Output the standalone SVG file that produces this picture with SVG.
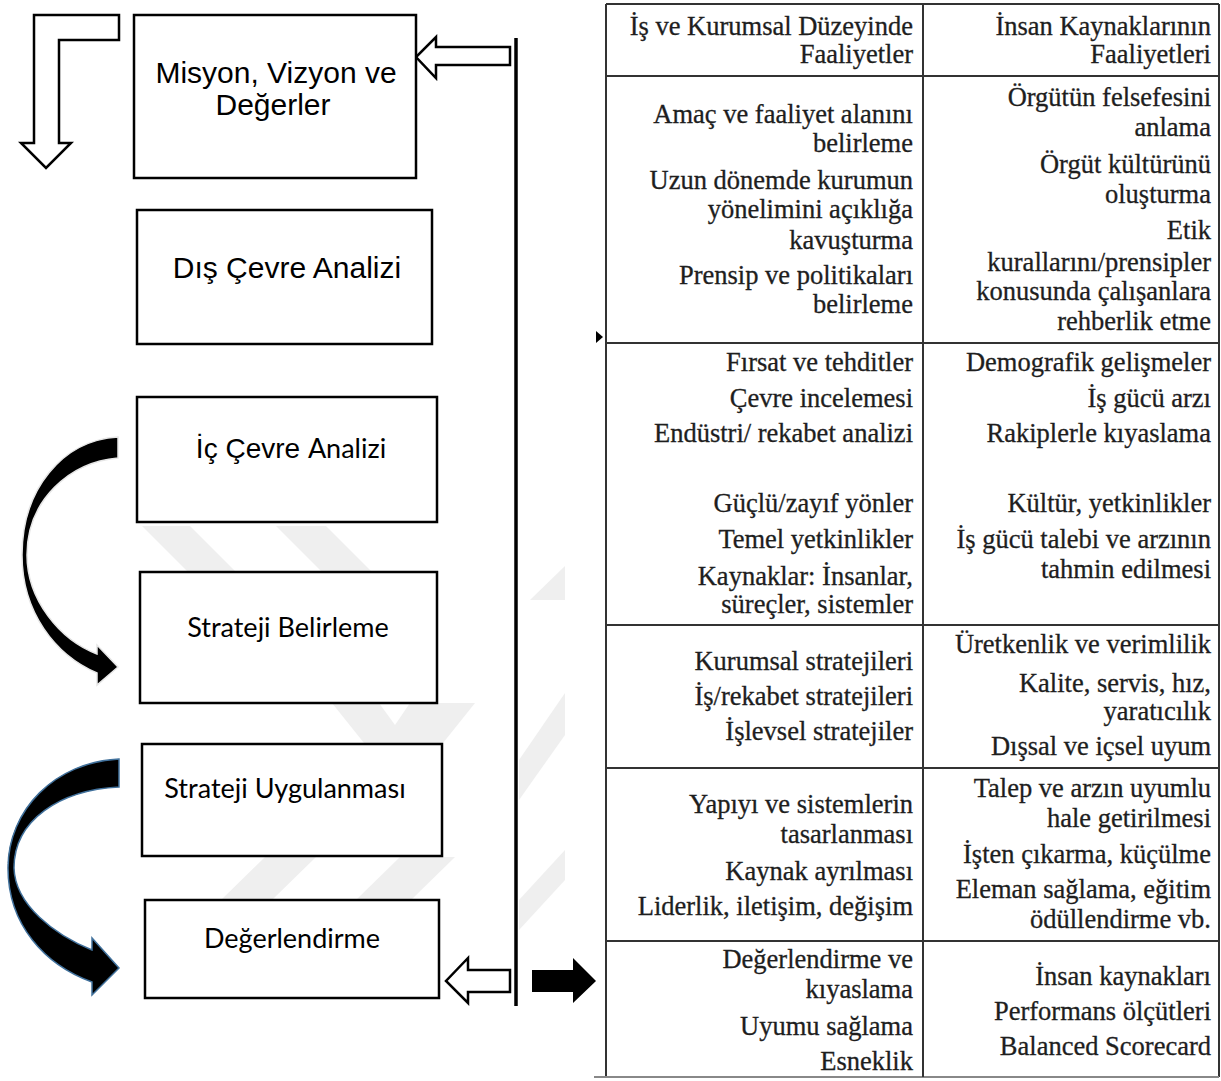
<svg xmlns="http://www.w3.org/2000/svg" width="1221" height="1081" viewBox="0 0 1221 1081">
<style>
.box{fill:#fff;stroke:#000;stroke-width:2.5}
.sans{font-family:"Liberation Sans",Arial,sans-serif;font-size:30px;fill:#000;text-anchor:middle}
.cal{font-family:Lato,"Open Sans",sans-serif;font-size:27px;fill:#000;text-anchor:middle}
.tl{stroke:#333;stroke-width:2;fill:none}
.tt{font-family:"Liberation Serif","Times New Roman",serif;font-size:26.5px;fill:#1e1e1e;stroke:#1e1e1e;stroke-width:0.3;text-anchor:end}
.hollow{fill:#fff;stroke:#000;stroke-width:2.5;stroke-linejoin:miter}
.wm{fill:#efefef}
</style>
<rect width="1221" height="1081" fill="#fff"/>

<g id="watermark">
  <polygon class="wm" points="142,526 190,526 236,572 188,572"/>
  <polygon class="wm" points="276,526 326,526 372,572 322,572"/>
  <polygon class="wm" points="332,703 379,703 395,725 410,703 475,703 443,743 364,743"/>
  <polygon class="wm" points="221,900 265,857 316,857 272,900"/>
  <polygon class="wm" points="356,900 400,857 455,857 411,900"/>
  <polygon class="wm" points="530,600 565,566 565,600"/>
  <polygon class="wm" points="519,760 565,693 565,735 519,800"/>
  <polygon class="wm" points="519,900 565,850 565,880 519,930"/>
</g>

<g id="connectors">
  <path class="hollow" d="M119,15 L34,15 L34,143 L21,143 L46,168 L71,143 L59,143 L59,40 L119,40 Z"/>
  <path class="hollow" d="M510,47 L436,47 L436,37 L416,57 L436,78 L436,65 L510,65 Z"/>
  <line x1="516" y1="38" x2="516" y2="1006" stroke="#000" stroke-width="3.5"/>
  <path d="M118,437 C62,440 22,490 22,555 C22,612 55,655 97,673 L97,685 L118,667 L97,645 L97,654 C60,640 27,600 27,555 C27,500 70,462 118,458 Z" fill="#000" stroke="#e6e6e6" stroke-width="1.5"/>
  <path d="M119,759 C55,762 8,810 8,868 C8,925 45,965 92,982 L92,995 L119,968 L92,938 L92,950 C55,935 15,905 14,868 C14,820 60,790 119,787 Z" fill="#000" stroke="#41719c" stroke-width="1.5"/>
  <path class="hollow" d="M510,970 L468,970 L468,958 L446,981 L468,1003 L468,992 L510,992 Z"/>
  <path d="M532,970 L573,970 L573,958 L596,981 L573,1003 L573,992 L532,992 Z" fill="#000"/>
  <path d="M596,331 L603,337 L596,343 Z" fill="#000"/>
</g>

<g id="n1"><rect class="box" x="134" y="15" width="282" height="163"/>
<text class="sans" x="276" y="83">Misyon, Vizyon ve</text>
<text class="sans" x="273" y="115">Değerler</text></g>

<g id="n2"><rect class="box" x="137" y="210" width="295" height="134"/>
<text class="sans" x="287" y="278">Dış Çevre Analizi</text></g>

<g id="n3"><rect class="box" x="137" y="397" width="300" height="125"/>
<text class="sans" x="291" y="458" style="font-size:28px">İç Çevre <tspan style="font-family:Lato,'Open Sans',sans-serif;font-size:27px">Analizi</tspan></text></g>

<g id="n4"><rect class="box" x="140" y="572" width="297" height="131"/>
<text class="cal" x="288" y="637">Strateji Belirleme</text></g>

<g id="n5"><rect class="box" x="142" y="744" width="300" height="112"/>
<text class="cal" x="285" y="798">Strateji Uygulanması</text></g>

<g id="n6"><rect class="box" x="145" y="900" width="294" height="98"/>
<text class="cal" x="292" y="948">Değerlendirme</text></g>

<g id="table">
  <line class="tl" x1="606" y1="4" x2="1219" y2="4"/>
  <line class="tl" x1="606" y1="4" x2="606" y2="1077"/>
  <line class="tl" x1="1219" y1="4" x2="1219" y2="1077"/>
  <line x1="594" y1="1077" x2="1219" y2="1077" stroke="#888" stroke-width="2"/>
  <line class="tl" x1="923" y1="4" x2="923" y2="1077"/>
  <line class="tl" x1="606" y1="76" x2="1219" y2="76"/>
  <line class="tl" x1="606" y1="343" x2="1219" y2="343"/>
  <line class="tl" x1="606" y1="625" x2="1219" y2="625"/>
  <line class="tl" x1="606" y1="768" x2="1219" y2="768"/>
  <line class="tl" x1="606" y1="941" x2="1219" y2="941"/>

  <g class="tt">
    <text x="913" y="35">İş ve Kurumsal Düzeyinde</text>
    <text x="913" y="63">Faaliyetler</text>
    <text x="1211" y="35">İnsan Kaynaklarının</text>
    <text x="1211" y="63">Faaliyetleri</text>

    <text x="913" y="123">Amaç ve faaliyet alanını</text>
    <text x="913" y="152">belirleme</text>
    <text x="913" y="189">Uzun dönemde kurumun</text>
    <text x="913" y="218">yönelimini açıklığa</text>
    <text x="913" y="249">kavuşturma</text>
    <text x="913" y="284">Prensip ve politikaları</text>
    <text x="913" y="313">belirleme</text>
    <text x="1211" y="106">Örgütün felsefesini</text>
    <text x="1211" y="136">anlama</text>
    <text x="1211" y="173">Örgüt kültürünü</text>
    <text x="1211" y="203">oluşturma</text>
    <text x="1211" y="239">Etik</text>
    <text x="1211" y="271">kurallarını/prensipler</text>
    <text x="1211" y="300">konusunda çalışanlara</text>
    <text x="1211" y="330">rehberlik etme</text>

    <text x="913" y="371">Fırsat ve tehditler</text>
    <text x="913" y="407">Çevre incelemesi</text>
    <text x="913" y="442">Endüstri/ rekabet analizi</text>
    <text x="913" y="512">Güçlü/zayıf yönler</text>
    <text x="913" y="548">Temel yetkinlikler</text>
    <text x="913" y="585">Kaynaklar: İnsanlar,</text>
    <text x="913" y="613">süreçler, sistemler</text>
    <text x="1211" y="371">Demografik gelişmeler</text>
    <text x="1211" y="407">İş gücü arzı</text>
    <text x="1211" y="442">Rakiplerle kıyaslama</text>
    <text x="1211" y="512">Kültür, yetkinlikler</text>
    <text x="1211" y="548">İş gücü talebi ve arzının</text>
    <text x="1211" y="578">tahmin edilmesi</text>

    <text x="913" y="670">Kurumsal stratejileri</text>
    <text x="913" y="705">İş/rekabet stratejileri</text>
    <text x="913" y="740">İşlevsel stratejiler</text>
    <text x="1211" y="653">Üretkenlik ve verimlilik</text>
    <text x="1211" y="692">Kalite, servis, hız,</text>
    <text x="1211" y="720">yaratıcılık</text>
    <text x="1211" y="755">Dışsal ve içsel uyum</text>

    <text x="913" y="813">Yapıyı ve sistemlerin</text>
    <text x="913" y="843">tasarlanması</text>
    <text x="913" y="880">Kaynak ayrılması</text>
    <text x="913" y="915">Liderlik, iletişim, değişim</text>
    <text x="1211" y="797">Talep ve arzın uyumlu</text>
    <text x="1211" y="827">hale getirilmesi</text>
    <text x="1211" y="863">İşten çıkarma, küçülme</text>
    <text x="1211" y="898">Eleman sağlama, eğitim</text>
    <text x="1211" y="928">ödüllendirme vb.</text>

    <text x="913" y="968">Değerlendirme ve</text>
    <text x="913" y="998">kıyaslama</text>
    <text x="913" y="1035">Uyumu sağlama</text>
    <text x="913" y="1070">Esneklik</text>
    <text x="1211" y="985">İnsan kaynakları</text>
    <text x="1211" y="1020">Performans ölçütleri</text>
    <text x="1211" y="1055">Balanced Scorecard</text>
  </g>
</g>
</svg>
